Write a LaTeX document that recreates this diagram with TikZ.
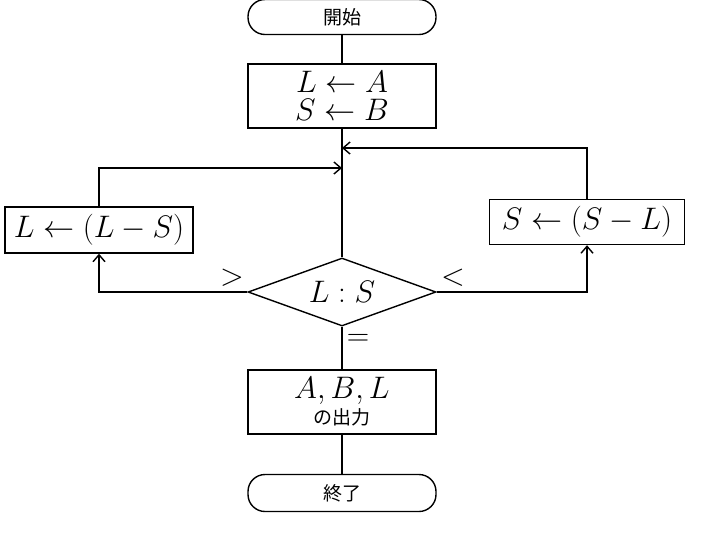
\documentclass[tikz,border=0pt]{standalone}
\usepackage{fontspec}
\usepackage{graphicx}
\newfontfamily\cjk{Noto Sans CJK JP}
\newcommand{\bm}[1]{\scalebox{1.8}{$#1$}}
\usetikzlibrary{arrows.meta,shapes.geometric}
\begin{document}
\begin{tikzpicture}[x=1pt,y=-1pt,
  every node/.style={font=\fontsize{19}{24}\selectfont},
  box/.style={draw,line width=1.4pt,minimum width=188pt,align=center,inner sep=0pt},
  term/.style={draw,line width=1.4pt,rounded corners=17pt,minimum width=188pt,minimum height=35pt},
  line/.style={line width=1.4pt},
  arr/.style={line width=1.4pt,-{Straight Barb[length=7pt,width=12pt]}}]
\useasboundingbox (0,0) rectangle (720,550);
\node[term] (start) at (342,17) {\cjk 開始};
\node[box,minimum height=64pt] (b1) at (342,96) {\bm{L\leftarrow A}\\[4pt]\bm{S\leftarrow B}};
\node[draw,diamond,line width=1.4pt,aspect=2.76,minimum width=188pt,minimum height=68pt,inner sep=0pt] (d) at (342,292) {\bm{L:S}};
\node[box,minimum height=46pt,minimum width=188pt] (lb) at (99,230) {\bm{L\leftarrow(L-S)}};
\node[box,minimum height=45pt,minimum width=195pt] (rb) at (587,222) {\bm{S\leftarrow(S-L)}};
\node[box,minimum height=64pt] (out) at (342,402) {\bm{A,B,L}\\[2pt]{\cjk の出力}};
\node[term,minimum height=37pt] (end) at (342,493) {\cjk 終了};
\coordinate (jl) at (342,168);
\coordinate (jr) at (342,148);
\draw[line] (start) -- (b1);
\draw[line] (b1) -- (d);
\draw[line] (d) -- (out);
\draw[line] (out) -- (end);
\draw[arr] (d.west) -| (lb.south);
\draw[arr] (d.east) -| (rb.south);
\draw[arr] (lb.north) |- (jl);
\draw[arr] (rb.north) |- (jr);
\node (gt) at (232,278) {\bm{>}};
\node (lt) at (453,278) {\bm{<}};
\node (eq) at (358,340) {\bm{=}};
\end{tikzpicture}
\end{document}
